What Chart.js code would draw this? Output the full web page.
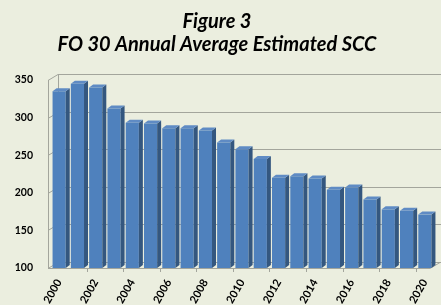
<!DOCTYPE html>
<html>
<head>
<meta charset="utf-8">
<script src="https://cdn.jsdelivr.net/npm/chart.js@4/dist/chart.umd.min.js"></script>
<style>
  html, body { margin: 0; padding: 0; background: #ebeedf; }
  #scc-chart { display: block; }
</style>
</head>
<body>
<canvas id="scc-chart" width="441" height="305"></canvas>
<script>
var years = ['2000', '2001', '2002', '2003', '2004', '2005', '2006', '2007', '2008', '2009', '2010',
             '2011', '2012', '2013', '2014', '2015', '2016', '2017', '2018', '2019', '2020'];
var sccValues = [335, 345, 340, 312, 293, 292, 286, 286, 283, 267, 258,
                 245, 220, 222, 219, 204, 207, 191, 178, 176, 171];
var titleLines = ['Figure 3', 'FO 30 Annual Average Estimated SCC'];

// fake 3D look: back wall, floor, and side/top faces of the columns
var depth3d = {
    id: 'depth3d',
    beforeDatasetsDraw: function(chart) {
        var ctx = chart.ctx, area = chart.chartArea, y = chart.scales.y;
        var wx = 10, wy = -6;
        ctx.save();
        ctx.strokeStyle = '#a3a59c';
        ctx.lineWidth = 1;
        [100, 150, 200, 250, 300, 350].forEach(function(v) {
            var py = Math.round(y.getPixelForValue(v)) + 0.5;
            ctx.beginPath();
            ctx.moveTo(area.left - 2, py);
            ctx.lineTo(area.left - 2 + wx, py + wy);
            ctx.lineTo(chart.width, py + wy);
            ctx.stroke();
        });
        // left edges of the side wall
        ctx.beginPath();
        ctx.moveTo(area.left - 1.5, y.getPixelForValue(350));
        ctx.lineTo(area.left - 1.5, area.bottom + 0.5);
        ctx.moveTo(area.left + 8.5, y.getPixelForValue(350) + wy);
        ctx.lineTo(area.left + 8.5, area.bottom + wy);
        ctx.stroke();
        // floor front edge
        ctx.beginPath();
        ctx.moveTo(area.left - 2, area.bottom + 0.5);
        ctx.lineTo(area.right - 4, area.bottom + 0.5);
        ctx.lineTo(area.right + 6, area.bottom + 0.5 + wy);
        ctx.stroke();
        // tick marks on the front edge, every other year
        var x = chart.scales.x, half = (x.getPixelForValue(1) - x.getPixelForValue(0)) / 2;
        for (var i = 2; i < years.length; i += 2) {
            var px = Math.round(x.getPixelForValue(i) - half) + 0.5;
            ctx.beginPath();
            ctx.moveTo(px, area.bottom);
            ctx.lineTo(px, area.bottom + 4);
            ctx.stroke();
        }
        ctx.restore();
    },
    afterDatasetsDraw: function(chart) {
        var ctx = chart.ctx, dx = 4, dy = -3, area = chart.chartArea;
        ctx.save();
        chart.getDatasetMeta(0).data.forEach(function(bar) {
            var l = bar.x - bar.width / 2, r = bar.x + bar.width / 2, t = bar.y;
            var b = Math.min(bar.base, area.bottom);
            ctx.fillStyle = '#34577f';
            ctx.beginPath();
            ctx.moveTo(r, t);
            ctx.lineTo(r + dx, t + dy);
            ctx.lineTo(r + dx, b + dy);
            ctx.lineTo(r, b);
            ctx.closePath();
            ctx.fill();
            ctx.fillStyle = '#5f8bc4';
            ctx.beginPath();
            ctx.moveTo(l, t);
            ctx.lineTo(l + dx, t + dy);
            ctx.lineTo(r + dx, t + dy);
            ctx.lineTo(r, t);
            ctx.closePath();
            ctx.fill();
        });
        ctx.restore();
    }
};

window.onload = function() {
    var ctx = document.getElementById('scc-chart').getContext('2d');
    window.sccBar = new Chart(ctx, {
        type: 'bar',
        data: {
            labels: years,
            datasets: [{
                label: 'SCC',
                data: sccValues,
                base: 100,
                backgroundColor: '#4f81bd',
                borderWidth: 0,
                barPercentage: 0.72,
                categoryPercentage: 1.0
            }]
        },
        options: {
            responsive: false,
            animation: false,
            layout: { padding: { left: 0, right: 7, top: 0, bottom: 0 } },
            plugins: {
                legend: { display: false },
                tooltip: { enabled: false },
                title: {
                    display: true,
                    text: titleLines,
                    color: '#000000',
                    font: { family: 'Lato', size: 20, weight: 'bold', style: 'italic', lineHeight: 1.15 },
                    padding: { top: 10, bottom: 24 }
                }
            },
            scales: {
                x: {
                    grid: { display: false },
                    border: { display: false },
                    afterFit: function(scale) { scale.height = 37; },
                    ticks: {
                        autoSkip: false,
                        maxRotation: 60,
                        minRotation: 60,
                        padding: 1,
                        color: '#000000',
                        font: { family: 'Lato', size: 11, weight: 'bold' },
                        callback: function(val, i) { return i % 2 === 0 ? years[i] : ''; }
                    }
                },
                y: {
                    min: 100,
                    max: 350,
                    grid: { display: false, drawTicks: false },
                    border: { display: false },
                    afterFit: function(scale) { scale.width = 50; },
                    ticks: {
                        stepSize: 50,
                        padding: 17,
                        color: '#000000',
                        font: { family: 'Lato', size: 10.5, weight: 'bold' }
                    }
                }
            }
        },
        plugins: [depth3d]
    });
};
</script>
</body>
</html>
